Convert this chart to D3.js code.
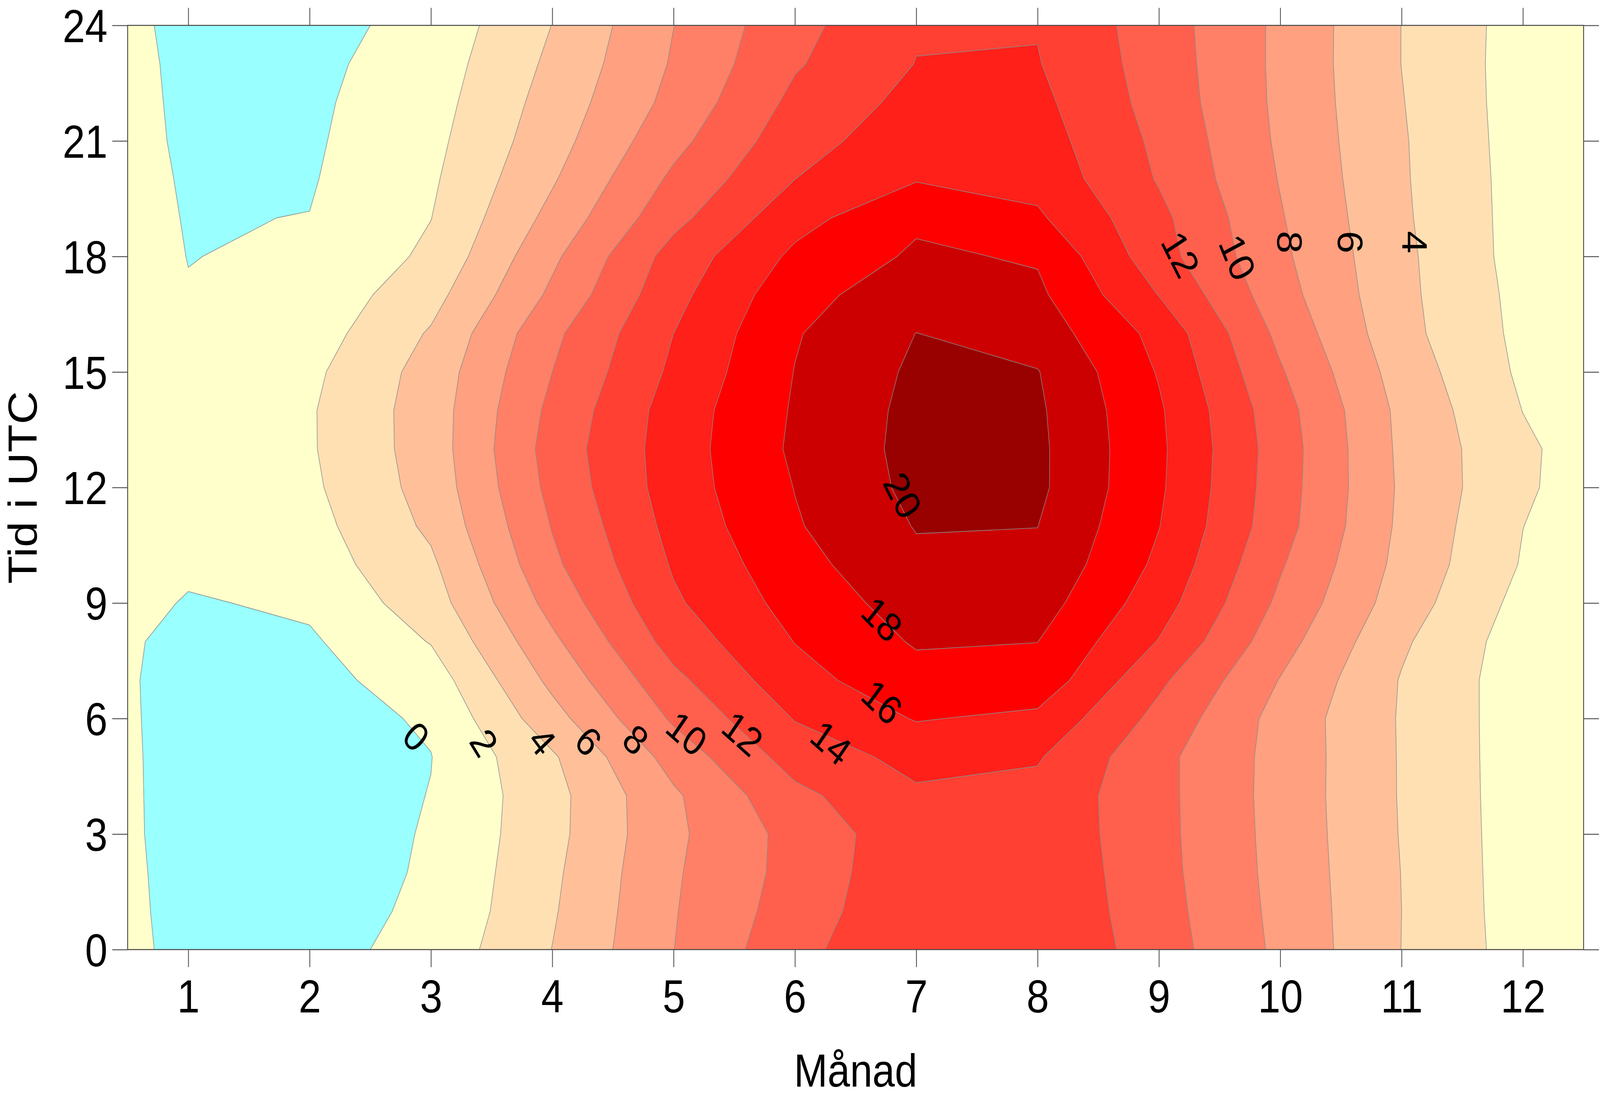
<!DOCTYPE html>
<html>
<head>
<meta charset="utf-8">
<script src="https://cdn.jsdelivr.net/npm/d3@7"></script>
<style>
  html, body { margin: 0; padding: 0; background: #ffffff; overflow: hidden; }
  svg { display: block; width: 100vw; height: 100vh; }
  text { font-family: "Liberation Sans", Arial, Helvetica, sans-serif; fill: #000; }
</style>
</head>
<body>
<svg id="chart" viewBox="0 0 4682 2807" preserveAspectRatio="none"></svg>
<script>
// ---------------- data ----------------
// grid columns (month) and rows (hour, UTC)
const months = [0.5, 1, 2, 3, 4, 5, 6, 7, 8, 9, 10, 11, 12, 12.5];
const hours  = [0, 1, 2, 3, 4, 5, 6, 7, 8, 9, 10, 11, 12, 13, 14, 15, 16, 17, 18, 19, 20, 21, 22, 23, 24];

// temperature per month column, hours 0..24
const tEdgeLeft = [0.35,0.29,0.26,0.22,0.21,0.2,0.18,0.16,0.23,0.8,0.9,1.0,1.15,1.2,1.15,1.05,0.85,0.65,0.48,0.5,0.51,0.5,0.5,0.5,0.35];
const tJan = [-0.45,-0.48,-0.52,-0.57,-0.58,-0.59,-0.62,-0.63,-0.56,-0.2,0.47,0.8,1.0,1.1,1.05,0.8,0.45,0.05,-0.02,-0.08,-0.16,-0.27,-0.35,-0.44,-0.45];
const tFeb = [-0.65,-0.6,-0.7,-0.85,-1.0,-1.1,-0.84,-0.62,-0.27,0.36,0.99,1.3,1.63,1.8,1.81,1.56,1.02,0.61,0.15,0.03,-0.14,-0.25,-0.33,-0.45,-0.65];
const tMar = [0.65,0.28,0.17,0.13,0.05,-0.04,0.25,0.97,2.1,3.06,3.65,4.37,4.77,4.95,4.97,4.78,4.2,3.28,2.4,1.97,1.7,1.45,1.2,0.95,0.65];
const tApr = [4.03,3.8,3.62,3.39,3.33,3.74,5.25,6.5,7.6,8.7,9.6,10.1,10.57,10.83,10.5,10.0,9.55,8.4,7.6,6.6,5.8,5.2,4.8,4.4,4.03];
const tMay = [7.98,7.88,7.77,7.6,7.7,8.8,10.3,11.5,12.8,13.7,14.2,14.63,14.96,15.0,14.9,14.4,14.0,13.4,12.8,11.4,10.4,9.4,8.6,8.2,7.98];
const tJun = [11.4,10.96,10.69,10.68,11.5,12.85,14.1,15.3,16.05,16.73,17.3,17.82,18.05,18.33,18.2,18.05,17.85,17.3,16.4,15.3,14.0,13.2,12.5,11.8,11.4];
const tJul = [13.8,13.6,13.5,13.3,13.7,14.6,16.13,17.3,18.2,18.9,19.6,20.1,20.5,20.6,20.54,20.34,20.02,19.2,18.3,17.65,15.88,15.2,14.6,14.05,13.8];
const tAug = [13.9,13.75,13.65,13.5,13.44,14.17,15.55,17.3,18.02,18.9,19.6,20.02,20.4,20.4,20.3,20.08,19.1,18.4,17.8,16.3,15.35,14.9,14.5,14.1,13.9];
const tSep = [10.98,10.79,10.65,10.58,10.56,10.55,11.4,12.4,13.9,14.9,15.6,16.05,16.3,16.37,16.25,15.85,15.4,13.95,12.8,12.5,11.85,11.58,11.25,11.1,10.98];
const tOct = [7.59,7.48,7.39,7.33,7.28,7.31,7.28,7.92,8.8,9.6,10.2,10.8,10.95,11.04,10.82,10.2,9.5,8.8,8.4,8.15,7.9,7.7,7.6,7.57,7.59];
const tNov = [3.98,4.0,3.97,3.9,3.86,3.85,3.83,3.88,4.3,5.0,5.4,5.6,5.7,5.6,5.5,5.1,4.63,4.5,4.44,4.3,4.22,4.18,4.08,3.98,3.98];
const tDec = [1.15,1.06,1.03,1.02,1.0,0.98,0.97,0.94,1.01,1.38,1.85,2.02,2.32,2.37,1.97,1.65,1.5,1.4,1.23,1.23,1.21,1.15,1.11,1.11,1.15];
const tEdgeRight = [0.35,0.29,0.26,0.22,0.21,0.2,0.18,0.16,0.23,0.8,0.9,1.0,1.15,1.2,1.15,1.05,0.85,0.65,0.48,0.5,0.51,0.5,0.5,0.5,0.35];

const levels = [0, 2, 4, 6, 8, 10, 12, 14, 16, 18, 20];
const belowColor = "#99FFFF";
const bandColors = ["#FFFFCC","#FFE0B3","#FFC099","#FFA080","#FF8066","#FF604D","#FF4033","#FF201A","#FF0000","#CC0000","#990000"];

const xTicks = [1,2,3,4,5,6,7,8,9,10,11,12];
const yTicks = [0,3,6,9,12,15,18,21,24];

// contour labels: value, month, hour, angle
const labelValues = [0,2,4,6,8,10,12,14,16,18,20,12,10,8,6,4];
const labelMonths = [2.88,3.44,3.92,4.30,4.69,5.11,5.57,6.30,6.72,6.72,6.89,9.18,9.65,10.08,10.58,11.11];
const labelHours  = [5.54,5.38,5.42,5.42,5.46,5.62,5.62,5.38,6.44,8.59,11.8,18.06,17.98,18.37,18.37,18.37];
const labelAngles = [45,55,50,45,40,38,38,38,40,42,60,60,65,90,90,90];

const xTitle = "Månad";
const yTitle = "Tid i UTC";

// ---------------- layout ----------------
const plotLeft = 373.5, plotRight = 4634, plotTop = 65, plotBottom = 2432;
const x = d3.scaleLinear().domain([0.5, 12.5]).range([plotLeft, plotRight]);
const y = d3.scaleLinear().domain([0, 24]).range([plotBottom, plotTop]);

const svg = d3.select("#chart");

// build grid (row-major, row = hour)
const columns = [tEdgeLeft, tJan, tFeb, tMar, tApr, tMay, tJun, tJul, tAug, tSep, tOct, tNov, tDec, tEdgeRight];
const nx = months.length, ny = hours.length;
const grid = new Array(nx * ny);
for (let j = 0; j < ny; j++) for (let i = 0; i < nx; i++) grid[j * nx + i] = columns[i][j];

const contourGen = d3.contours().size([nx, ny]).thresholds(levels);
const polys = contourGen(grid);

function gToVal(gv, arr) {
  let g = Math.max(0, Math.min(arr.length - 1, gv - 0.5));
  let i = Math.min(arr.length - 2, Math.floor(g));
  return arr[i] + (g - i) * (arr[i + 1] - arr[i]);
}
const proj = d3.geoTransform({
  point: function(px, py) { this.stream.point(x(gToVal(px, months)), y(gToVal(py, hours))); }
});
const path = d3.geoPath(proj);

// base (below lowest level)
svg.append("rect")
  .attr("x", plotLeft).attr("y", plotTop)
  .attr("width", plotRight - plotLeft).attr("height", plotBottom - plotTop)
  .attr("fill", belowColor);

svg.append("g").attr("class", "bands")
  .selectAll("path").data(polys).join("path")
  .attr("d", path)
  .attr("fill", (d, i) => bandColors[i])
  .attr("stroke", "#8a8a8a")
  .attr("stroke-width", 1.6)
  .attr("stroke-linejoin", "round");

// contour labels
svg.append("g").attr("class", "clabels")
  .selectAll("text").data(labelValues).join("text")
  .attr("transform", (d, i) => `translate(${x(labelMonths[i])},${y(labelHours[i])}) rotate(${labelAngles[i]})`)
  .attr("text-anchor", "middle")
  .attr("dy", "0.36em")
  .style("font-size", "104px")
  .text(d => d);

// frame
svg.append("rect")
  .attr("x", plotLeft).attr("y", plotTop)
  .attr("width", plotRight - plotLeft).attr("height", plotBottom - plotTop)
  .attr("fill", "none").attr("stroke", "#444").attr("stroke-width", 2.5);

// axes
const tickLen = 45;
const fs = "118px";
const gB = svg.append("g").attr("transform", `translate(0,${plotBottom})`)
  .call(d3.axisBottom(x).tickValues(xTicks).tickSize(tickLen).tickSizeOuter(0).tickPadding(32).tickFormat(d3.format("d")));
const gL = svg.append("g").attr("transform", `translate(${plotLeft},0)`)
  .call(d3.axisLeft(y).tickValues(yTicks).tickSize(tickLen).tickSizeOuter(0).tickPadding(14).tickFormat(d3.format("d")));
const gT = svg.append("g").attr("transform", `translate(0,${plotTop})`)
  .call(d3.axisTop(x).tickValues(xTicks).tickSize(tickLen).tickSizeOuter(0).tickFormat(""));
const gR = svg.append("g").attr("transform", `translate(${plotRight},0)`)
  .call(d3.axisRight(y).tickValues(yTicks).tickSize(tickLen).tickSizeOuter(0).tickFormat(""));
[gB, gL, gT, gR].forEach(g => {
  g.select(".domain").remove();
  g.selectAll(".tick line").attr("stroke", "#555").attr("stroke-width", 2.5);
  g.selectAll(".tick text").style("font-size", fs).attr("fill", "#000")
   .style("font-family", '"Liberation Sans", Arial, Helvetica, sans-serif');
});
gL.selectAll(".tick text").attr("dy", "0.36em");

// titles
svg.append("text")
  .attr("x", (plotLeft + plotRight) / 2).attr("y", 2783)
  .attr("text-anchor", "middle").style("font-size", fs)
  .text(xTitle);
svg.append("text")
  .attr("transform", `translate(107,${(plotTop + plotBottom) / 2}) rotate(-90)`)
  .attr("text-anchor", "middle").style("font-size", fs)
  .text(yTitle);
</script>
</body>
</html>
